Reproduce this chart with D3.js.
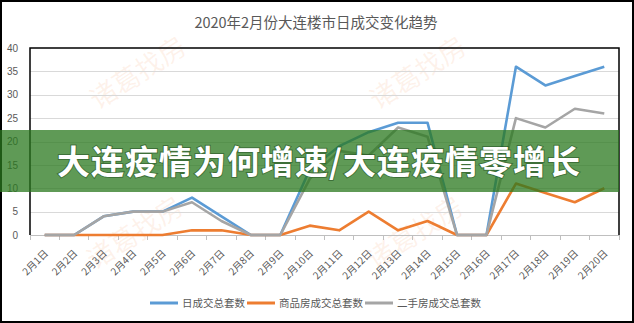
<!DOCTYPE html>
<head>
<meta charset="utf-8">
<style>
body { margin: 0; background: #fff; }
text { font-family: "Liberation Sans", Arial, "Noto Sans CJK SC", sans-serif; }
.cjk { font-family: "Noto Sans CJK SC", sans-serif; }
.grid line { stroke: #d9d9d9; stroke-width: 1; shape-rendering: crispEdges; }
.line { fill: none; stroke-width: 2.6px; stroke-linejoin: round; }
</style>
<script src="https://cdn.jsdelivr.net/npm/d3@7"></script>
</head>
<body>
<script>
// data
var dates = ["2月1日","2月2日","2月3日","2月4日","2月5日","2月6日","2月7日","2月8日","2月9日","2月10日",
             "2月11日","2月12日","2月13日","2月14日","2月15日","2月16日","2月17日","2月18日","2月19日","2月20日"];
var totalSales  = [0, 0, 4, 5, 5, 8, 4, 0, 0, 14, 19, 22, 24, 24, 0, 0, 36, 32, 34, 36];
var newHomes    = [0, 0, 0, 0, 0, 1, 1, 0, 0, 2, 1, 5, 1, 3, 0, 0, 11, 9, 7, 10];
var resaleHomes = [0, 0, 4, 5, 5, 7, 3, 0, 0, 12, 18, 17, 23, 21, 0, 0, 25, 23, 27, 26];
var yTicks = [0, 5, 10, 15, 20, 25, 30, 35, 40];
var seriesNames = ["日成交总套数", "商品房成交总套数", "二手房成交总套数"];
var seriesColors = ["#5b9bd5", "#ed7d31", "#a5a5a5"];
var chartTitle = "2020年2月份大连楼市日成交变化趋势";
var bannerText = "大连疫情为何增速/大连疫情零增长";
var watermark = "诸葛找房";

var W = 634, H = 323;
var plot = {left: 30, right: 619, top: 48, bottom: 235};

var svg = d3.select("body").append("svg")
    .attr("width", W)
    .attr("height", H);

svg.append("rect")
    .attr("x", 1).attr("y", 1)
    .attr("width", W - 2).attr("height", H - 2)
    .attr("fill", "#fff")
    .attr("stroke", "#000")
    .attr("stroke-width", 2);

var band = d3.scaleBand().domain(dates).range([plot.left, plot.right]);
var x = d3.scalePoint().domain(dates).range([plot.left, plot.right]).padding(0.5);
var y = d3.scaleLinear().domain([0, 40]).range([plot.bottom, plot.top]);

// faint watermarks
var wmSpots = [[138, 73], [418, 73], [135, 233], [415, 233]];
svg.append("g").selectAll("text")
    .data(wmSpots)
  .enter().append("text")
    .attr("class", "cjk")
    .attr("transform", function(d) { return "translate(" + d[0] + "," + d[1] + ") rotate(-33)"; })
    .attr("text-anchor", "middle")
    .attr("dy", "0.35em")
    .style("font-size", "27px")
    .attr("fill", "rgba(245,150,90,0.12)")
    .text(watermark);

svg.append("text")
    .attr("class", "cjk")
    .attr("x", 316)
    .attr("y", 28)
    .attr("text-anchor", "middle")
    .style("font-size", "14.5px")
    .attr("fill", "#595959")
    .text(chartTitle);

// grid
svg.append("g")
    .attr("class", "grid")
    .attr("transform", "translate(" + plot.left + ",0)")
    .call(d3.axisLeft(y).tickValues(yTicks.slice(1, -1)).tickSize(-(plot.right - plot.left)).tickFormat(""))
    .call(function(g) { g.select(".domain").remove(); });

// y labels
svg.append("g")
    .attr("transform", "translate(" + (plot.left - 9) + ",0)")
    .call(d3.axisLeft(y).tickValues(yTicks).tickSize(0))
    .call(function(g) {
      g.select(".domain").remove();
      g.selectAll("text").attr("fill", "#595959").style("font-size", "10px")
        .attr("font-family", "Liberation Sans, Arial, sans-serif");
    });

// x axis line and ticks
svg.append("line")
    .attr("x1", plot.left).attr("x2", plot.right)
    .attr("y1", y(0)).attr("y2", y(0))
    .attr("stroke", "#bfbfbf").attr("stroke-width", 1)
    .attr("shape-rendering", "crispEdges");

svg.append("g").selectAll("line")
    .data(dates.concat(["end"]))
  .enter().append("line")
    .attr("x1", function(d) { return d === "end" ? plot.right : band(d); })
    .attr("x2", function(d) { return d === "end" ? plot.right : band(d); })
    .attr("y1", y(0)).attr("y2", y(0) + 5)
    .attr("stroke", "#bfbfbf")
    .attr("shape-rendering", "crispEdges");

svg.append("g").selectAll("text")
    .data(dates)
  .enter().append("text")
    .attr("class", "cjk")
    .attr("transform", function(d) { return "translate(" + (x(d) + 4) + "," + (y(0) + 19) + ") rotate(-45)"; })
    .attr("text-anchor", "end")
    .style("font-size", "10px")
    .attr("fill", "#595959")
    .text(function(d) { return d; });

// plot-area frame
svg.append("path")
    .attr("d", "M" + plot.left + "," + plot.bottom + "V" + plot.top + "H" + plot.right + "V" + plot.bottom)
    .attr("fill", "none")
    .attr("stroke", "#000")
    .attr("stroke-width", 1.5);

// lines
var series = [totalSales, newHomes, resaleHomes];
var line = d3.line()
    .x(function(d, i) { return x(dates[i]); })
    .y(function(d) { return y(d); });

svg.append("g").selectAll("path")
    .data(series)
  .enter().append("path")
    .attr("class", "line")
    .attr("d", line)
    .style("stroke", function(d, i) { return seriesColors[i]; });

// legend
var legend = svg.append("g").attr("transform", "translate(0,303)");
var lx = 150;
seriesNames.forEach(function(name, i) {
  legend.append("line")
      .attr("x1", lx).attr("x2", lx + 28)
      .attr("stroke", seriesColors[i])
      .attr("stroke-width", 3);
  var t = legend.append("text")
      .attr("class", "cjk")
      .attr("x", lx + 32)
      .attr("dy", "0.36em")
      .style("font-size", "10.5px")
      .attr("fill", "#595959")
      .text(name);
  lx += 32 + t.node().getComputedTextLength() + 2;
});

// green banner over the chart
svg.append("rect")
    .attr("x", 0).attr("y", 130)
    .attr("width", plot.right).attr("height", 62)
    .attr("fill", "rgb(41,120,29)")
    .attr("opacity", 0.75);

svg.append("text")
    .attr("class", "cjk")
    .attr("x", 319)
    .attr("y", 174)
    .attr("text-anchor", "middle")
    .style("font-size", "33px")
    .style("font-weight", "bold")
    .style("letter-spacing", "1px")
    .style("paint-order", "stroke")
    .attr("stroke", "rgba(20,60,20,0.45)")
    .attr("stroke-width", 2)
    .attr("fill", "#fff")
    .text(bannerText);
</script>
</body>
